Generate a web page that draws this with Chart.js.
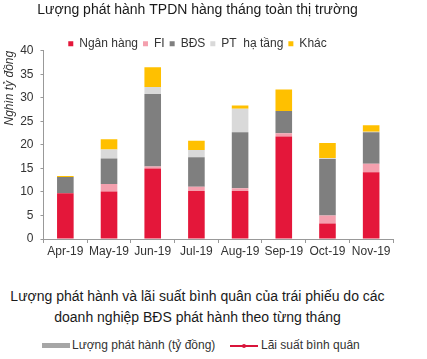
<!DOCTYPE html>
<html><head><meta charset="utf-8">
<script src="https://cdn.jsdelivr.net/npm/chart.js@4"></script>
<style>
html,body{margin:0;padding:0;background:#fff;}
#wrap{position:relative;width:427px;height:359px;font-family:"Liberation Sans",Arial,sans-serif;overflow:hidden;}
#c{position:absolute;left:0;top:0;}
.t2{position:absolute;left:0;width:395px;text-align:center;font-size:14px;line-height:16px;color:#1a1a1a;white-space:nowrap;}
.lg{position:absolute;top:338px;font-size:12px;color:#333;white-space:nowrap;line-height:14px;}
</style></head><body>
<div id="wrap">
<canvas id="c" width="427" height="260"></canvas>
<div class="t2" style="top:288px">Lượng phát hành và lãi suất bình quân của trái phiếu do các</div>
<div class="t2" style="top:309px">doanh nghiệp BĐS phát hành theo từng tháng</div>
<div style="position:absolute;left:42px;top:343px;width:28px;height:5px;background:#a6a6a6;"></div>
<div class="lg" style="left:72px">Lượng phát hành (tỷ đồng)</div>
<div style="position:absolute;left:230px;top:345px;width:28px;height:2px;background:#d9143a;"></div>
<div style="position:absolute;left:242px;top:344px;width:4px;height:4px;border-radius:2px;background:#d9143a;"></div>
<div class="lg" style="left:261px">Lãi suất bình quân</div>
</div>
<script>
const categories = ["Apr-19","May-19","Jun-19","Jul-19","Aug-19","Sep-19","Oct-19","Nov-19"];
const nganHang = [9.7, 10.1, 15.0, 10.2, 10.2, 21.8, 3.3, 14.2];
const fi       = [0.0, 1.6, 0.4, 0.9, 0.6, 0.7, 1.7, 1.8];
const bds      = [3.5, 5.4, 15.4, 6.3, 11.9, 4.7, 12.0, 6.7];
const ptHaTang = [0.0, 1.9, 1.5, 1.5, 5.0, 0.0, 0.2, 0.1];
const khac     = [0.2, 2.2, 4.2, 2.0, 0.7, 4.6, 3.2, 1.4];
const yTicks = [0,5,10,15,20,25,30,35,40];

const FONT = "'Liberation Sans', Arial, sans-serif";
Chart.defaults.font.family = FONT;
Chart.defaults.color = '#333';

const ds = (label, data, color) => ({label, data, backgroundColor: color, borderWidth: 0, barPercentage: 0.38, categoryPercentage: 1.0});

new Chart(document.getElementById('c'), {
  type: 'bar',
  data: {
    labels: categories,
    datasets: [
      ds('Ngân hàng', nganHang, '#e4173a'),
      ds('FI', fi, '#f4a0ae'),
      ds('BĐS', bds, '#7f7f7f'),
      ds('PT  hạ tầng', ptHaTang, '#d9d9d9'),
      ds('Khác', khac, '#ffc000')
    ]
  },
  options: {
    responsive: false,
    animation: false,
    layout: {padding: {left: 2, right: 34, top: 0, bottom: 0}},
    plugins: {
      title: {display: true, text: 'Lượng phát hành TPDN hàng tháng toàn thị trường', color: '#1a1a1a', font: {size: 14, weight: 'normal'}, padding: {top: 2, bottom: 14}, align: 'center'},
      legend: {position: 'top', maxHeight: 18, labels: {boxWidth: 5, boxHeight: 5, font: {size: 12}, color: '#333', padding: 5}},
      tooltip: {enabled: false}
    },
    scales: {
      x: {
        stacked: true,
        afterFit: (ax) => { ax.height = 21; },
        grid: {display: true, drawOnChartArea: false, offset: true, tickLength: 4, color: '#999'},
        border: {color: '#999'},
        ticks: {font: {size: 12}, color: '#333', maxRotation: 0, autoSkip: false, padding: 1}
      },
      y: {
        stacked: true,
        min: 0, max: 40,
        afterFit: (ax) => { ax.width = 41.5; },
        afterBuildTicks: (ax) => { ax.ticks = yTicks.map(v => ({value: v})); },
        grid: {display: true, drawOnChartArea: false, tickLength: 3, color: '#999'},
        border: {color: '#999'},
        ticks: {font: {size: 12}, color: '#333', padding: 7},
        title: {display: true, text: 'Nghìn tỷ đồng', align: 'end', font: {size: 12, style: 'italic'}, color: '#333', padding: {top: 0, bottom: 0}}
      }
    }
  }
});
</script>
</body></html>
